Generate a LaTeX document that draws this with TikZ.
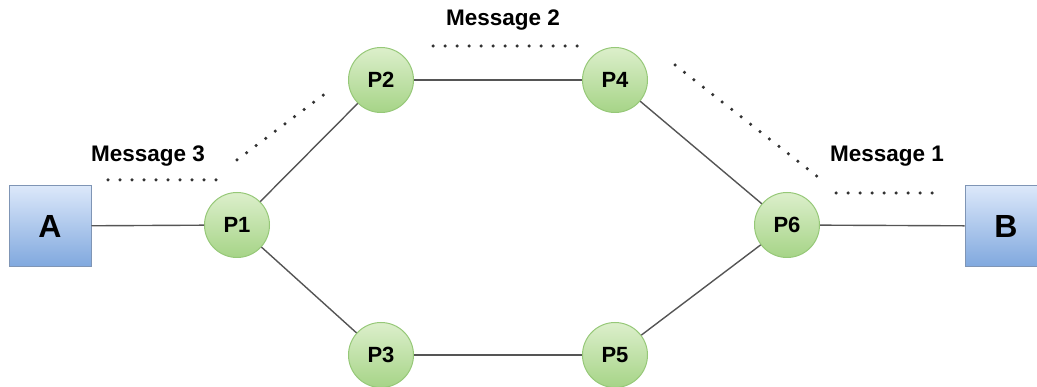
\documentclass[tikz,border=0pt]{standalone}
\usepackage{fontspec}
\setmainfont{Liberation Sans}
\definecolor{procTop}{HTML}{DCEFCB}
\definecolor{procBot}{HTML}{A6D487}
\definecolor{procLine}{HTML}{96C878}
\definecolor{hostTop}{HTML}{DCE8FA}
\definecolor{hostBot}{HTML}{80A8DE}
\definecolor{hostLine}{HTML}{7F95B5}
\definecolor{wire}{HTML}{555555}
\definecolor{dots}{HTML}{333333}
\begin{document}
\begin{tikzpicture}[x=1pt,y=-1pt,
  proc/.style={circle, minimum size=65pt, inner sep=0pt, draw=procLine, line width=1pt,
    top color=procTop, bottom color=procBot, font=\bfseries\fontsize{22}{26}\selectfont},
  host/.style={rectangle, minimum width=82pt, minimum height=81pt, inner sep=0pt,
    draw=hostLine, line width=1pt, top color=hostTop, bottom color=hostBot,
    font=\bfseries\fontsize{32}{36}\selectfont},
  wireline/.style={draw=wire, line width=1.4pt},
  msgdots/.style={draw=dots, line width=3.5pt, line cap=round, dash pattern=on 0pt off 12pt},
  msg/.style={font=\bfseries\fontsize{22.5}{26}\selectfont, inner sep=0pt}]
\useasboundingbox (0,0) rectangle (1037,387);

% hosts and routers
\node[host] (a) at (50,226) {A};
\node[host] (b) at (1006,226) {B};
\node[proc] (p1) at (237,225) {P1};
\node[proc] (p2) at (381,80) {P2};
\node[proc] (p4) at (615,80) {P4};
\node[proc] (p3) at (381,355) {P3};
\node[proc] (p5) at (615,355) {P5};
\node[proc] (p6) at (787,225) {P6};

% links
\draw[wireline] (a) -- (p1);
\draw[wireline] (p1) -- (p2);
\draw[wireline] (p2) -- (p4);
\draw[wireline] (p4) -- (p6);
\draw[wireline] (p1) -- (p3);
\draw[wireline] (p3) -- (p5);
\draw[wireline] (p5) -- (p6);
\draw[wireline] (p6) -- (b);

% message labels
\node[msg] (m3) at (148,156) {Message 3};
\node[msg] (m2) at (503,20) {Message 2};
\node[msg] (m1) at (887,156) {Message 1};

% dotted message paths
\coordinate (d3a) at (108,180);
\coordinate (d3b) at (216,180);
\coordinate (d3c) at (237,160);
\coordinate (d3d) at (330,90);
\coordinate (d2a) at (433,46);
\coordinate (d2b) at (578,46);
\coordinate (d1a) at (675,65);
\coordinate (d1b) at (818,177);
\coordinate (d1c) at (836,193);
\coordinate (d1d) at (932,193);
\draw[msgdots] (d3a) -- (d3b);
\draw[msgdots] (d3c) -- (d3d);
\draw[msgdots] (d2a) -- (d2b);
\draw[msgdots] (d1a) -- (d1b);
\draw[msgdots] (d1c) -- (d1d);
\end{tikzpicture}
\end{document}
